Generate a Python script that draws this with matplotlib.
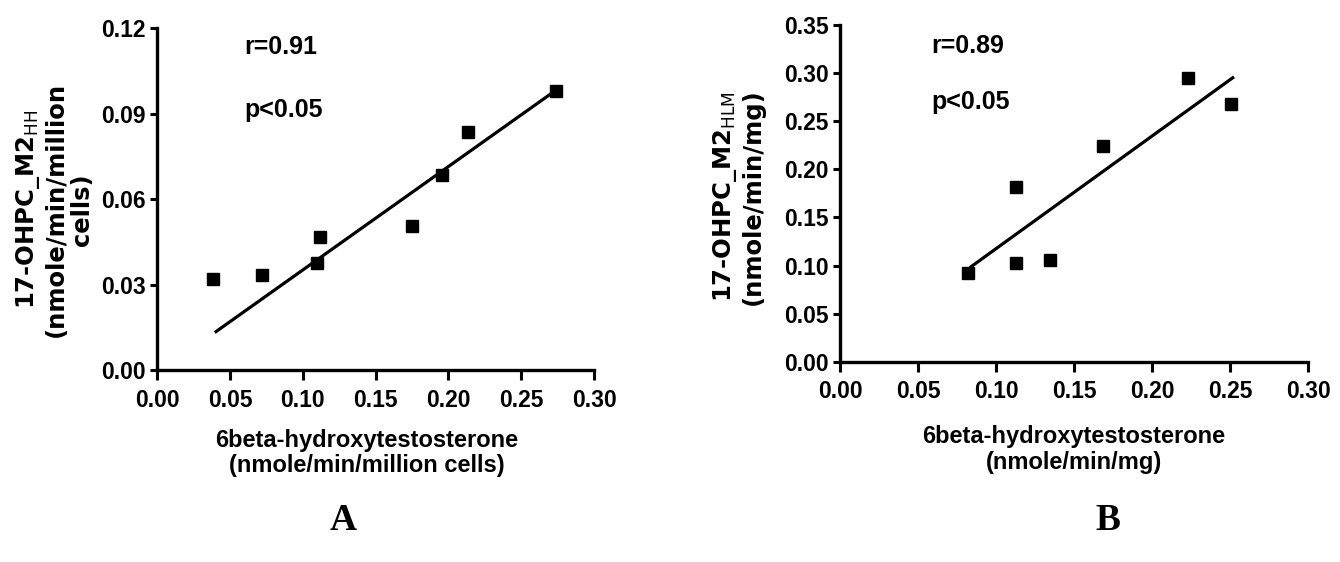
import matplotlib.pyplot as plt

# panel A: hepatocytes
a_x = [0.0387, 0.0719, 0.1097, 0.1120, 0.1749, 0.1955, 0.2138, 0.2740]
a_y = [0.0319, 0.0334, 0.0375, 0.0468, 0.0506, 0.0685, 0.0837, 0.0980]
a_line_x = [0.0405, 0.2720]
a_line_y = [0.0135, 0.0976]

# panel B: liver microsomes
b_x = [0.0818, 0.1128, 0.1128, 0.1348, 0.1688, 0.2228, 0.2506]
b_y = [0.0925, 0.1819, 0.1023, 0.1057, 0.2242, 0.2946, 0.2679]
b_line_x = [0.0840, 0.2517]
b_line_y = [0.0988, 0.2952]

a_yticks = [0.00, 0.03, 0.06, 0.09, 0.12]
b_yticks = [0.00, 0.05, 0.10, 0.15, 0.20, 0.25, 0.30, 0.35]
xticks = [0.00, 0.05, 0.10, 0.15, 0.20, 0.25, 0.30]

tick_font = ['Liberation Sans', 'DejaVu Sans']
label_font = ['DejaVu Sans']

fig = plt.figure(figsize=(13.4, 5.62), dpi=100)
fig.patch.set_facecolor('white')

ax_a = fig.add_axes([0.1172, 0.3416, 0.3261, 0.608])
ax_b = fig.add_axes([0.6269, 0.3564, 0.3493, 0.599])


def style_axes(ax, yticks, fmt):
    for side in ['top', 'right']:
        ax.spines[side].set_visible(False)
    for side in ['left', 'bottom']:
        ax.spines[side].set_linewidth(2.4)
    ax.set_xlim(0, 0.30)
    ax.set_ylim(0, yticks[-1])
    ax.set_xticks(xticks)
    ax.set_yticks(yticks)
    ax.set_xticklabels([f'{v:.2f}' for v in xticks])
    ax.set_yticklabels([fmt.format(v) for v in yticks])
    ax.tick_params(axis='x', direction='out', length=7.5, width=2.2, pad=6)
    ax.tick_params(axis='y', direction='out', length=5, width=2.2, pad=3)
    for lab in ax.get_xticklabels() + ax.get_yticklabels():
        lab.set_family(tick_font)
        lab.set_fontweight('bold')
        lab.set_fontsize(16.5)


style_axes(ax_a, a_yticks, '{:.2f}')
style_axes(ax_b, b_yticks, '{:.2f}')

ax_a.plot(a_x, a_y, 's', color='black', markersize=8.5)
ax_a.plot(a_line_x, a_line_y, '-', color='black', linewidth=2.3)
ax_b.plot(b_x, b_y, 's', color='black', markersize=8.5)
ax_b.plot(b_line_x, b_line_y, '-', color='black', linewidth=2.3)

# stats text
ax_a.text(0.0598, 0.1136, 'r=0.91', fontsize=18, fontweight='bold',
          family=tick_font, va='center', ha='left')
ax_a.text(0.0598, 0.0913, 'p<0.05', fontsize=18, fontweight='bold',
          family=tick_font, va='center', ha='left')
ax_b.text(0.0583, 0.328, 'r=0.89', fontsize=18, fontweight='bold',
          family=tick_font, va='center', ha='left')
ax_b.text(0.0583, 0.2703, 'p<0.05', fontsize=18, fontweight='bold',
          family=tick_font, va='center', ha='left')

# axis labels
ax_a.text(-0.236, 0.47, '17-OHPC_M2$_{\\mathrm{HH}}$\n(nmole/min/million\ncells)',
          transform=ax_a.transAxes, rotation=90, ha='center', va='center',
          multialignment='center', fontsize=17.5, fontweight='bold',
          family=label_font, linespacing=1.12)
ax_b.text(-0.218, 0.49, '17-OHPC_M2$_{\\mathrm{HLM}}$\n(nmole/min/mg)',
          transform=ax_b.transAxes, rotation=90, ha='center', va='center',
          multialignment='center', fontsize=17.5, fontweight='bold',
          family=label_font, linespacing=1.12)

ax_a.text(0.48, -0.243, '6beta-hydroxytestosterone\n(nmole/min/million cells)',
          transform=ax_a.transAxes, ha='center', va='center',
          multialignment='center', fontsize=17, fontweight='bold',
          family=tick_font, linespacing=1.1)
ax_b.text(0.50, -0.26, '6beta-hydroxytestosterone\n(nmole/min/mg)',
          transform=ax_b.transAxes, ha='center', va='center',
          multialignment='center', fontsize=17, fontweight='bold',
          family=tick_font, linespacing=1.15)

# panel letters
fig.text(343 / 1340, 1 - 521 / 562, 'A', fontsize=27, fontweight='bold',
         family=['Liberation Serif', 'DejaVu Serif'], ha='center', va='center')
fig.text(1108 / 1340, 1 - 521 / 562, 'B', fontsize=27, fontweight='bold',
         family=['Liberation Serif', 'DejaVu Serif'], ha='center', va='center')

fig.savefig('out.png', dpi=100, facecolor='white')
